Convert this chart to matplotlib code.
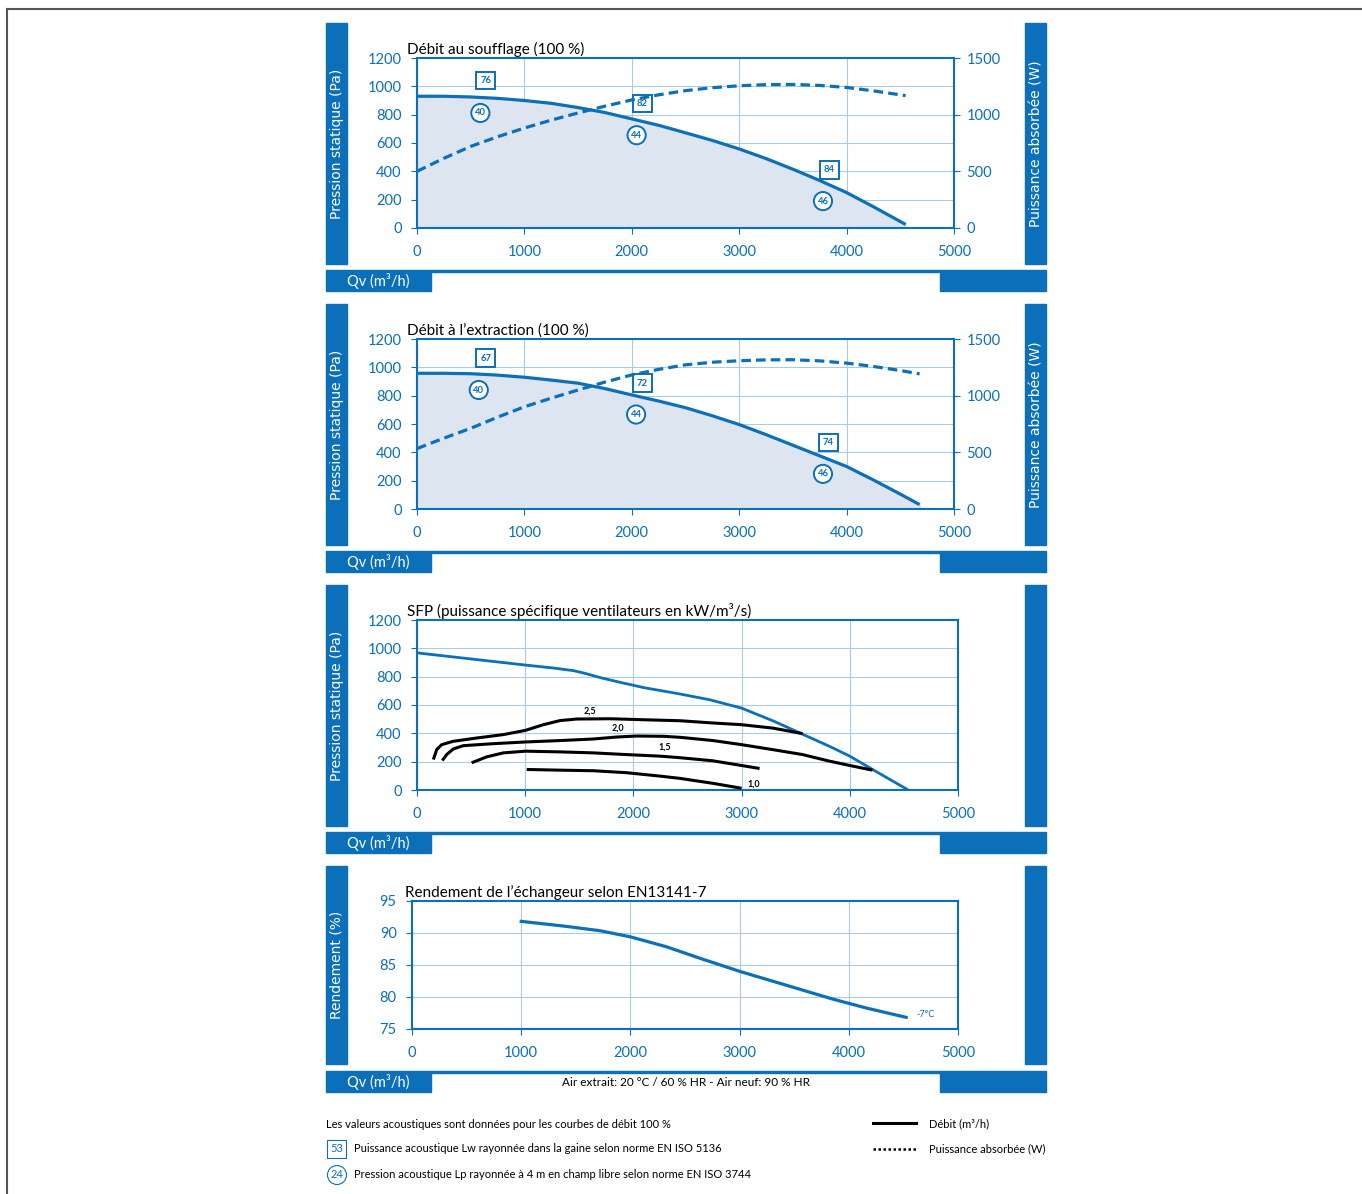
import numpy as np
import matplotlib
matplotlib.use("Agg")
import matplotlib.pyplot as plt
from matplotlib.patches import Rectangle, Circle
from matplotlib.lines import Line2D

plt.rcParams['font.family'] = ['Lato', 'DejaVu Sans']

BLUE = '#0b6fba'
GRID = '#a9cbe8'
FILL = '#dde5f0'

# ---- data ----
# soufflage
q1 = [0, 250, 500, 750, 1000, 1250, 1500, 1750, 2000, 2250, 2500, 2750, 3000, 3250, 3500, 3750, 4000, 4250, 4550]
p1 = [930, 930, 925, 915, 900, 880, 850, 815, 770, 725, 672, 618, 558, 490, 415, 335, 250, 150, 25]
w1 = [500, 615, 720, 805, 882, 952, 1015, 1075, 1130, 1175, 1212, 1238, 1255, 1265, 1267, 1258, 1240, 1210, 1168]
sq1 = [(640, 1040, '76'), (2100, 880, '82'), (3840, 410, '84')]
ci1 = [(590, 812, '40'), (2045, 655, '44'), (3780, 190, '46')]

# extraction
q2 = [0, 250, 500, 750, 1000, 1250, 1500, 1750, 2000, 2250, 2500, 2750, 3000, 3250, 3500, 3750, 4000, 4250, 4500, 4680]
p2 = [958, 958, 955, 945, 930, 910, 888, 850, 805, 762, 715, 658, 596, 525, 450, 375, 300, 205, 105, 31]
w2 = [533, 625, 712, 810, 902, 978, 1050, 1120, 1183, 1232, 1272, 1295, 1308, 1316, 1317, 1307, 1287, 1258, 1222, 1192]
sq2 = [(640, 1065, '67'), (2100, 888, '72'), (3830, 470, '74')]
ci2 = [(575, 840, '40'), (2040, 667, '44'), (3780, 248, '46')]

# SFP
q3 = [0, 500, 1000, 1250, 1450, 1550, 1700, 1900, 2100, 2400, 2700, 3000, 3300, 3560, 3810, 4000, 4210, 4540]
p3 = [968, 925, 882, 862, 842, 824, 792, 756, 722, 682, 638, 578, 485, 395, 309, 239, 145, 0]
sfp_q = {
    '2,5': [151, 182, 228, 336, 552, 798, 1002, 1168, 1322, 1476, 1784, 2092, 2430, 2736, 3000, 3288, 3564],
    '2,0': [234, 274, 336, 428, 706, 1002, 1322, 1630, 1846, 2031, 2277, 2430, 2736, 3000, 3288, 3564, 3810, 4000, 4209],
    '1,5': [505, 644, 798, 1002, 1322, 1630, 1938, 2247, 2430, 2736, 3166],
    '1,0': [1014, 1322, 1630, 1938, 2247, 2430, 2736, 3000],
}
sfp_p = {
    '2,5': [215, 285, 320, 344, 367, 391, 421, 461, 490, 501, 503, 496, 489, 473, 461, 437, 398],
    '2,0': [208, 250, 290, 313, 327, 339, 349, 360, 374, 381, 379, 372, 349, 320, 285, 250, 204, 173, 140],
    '1,5': [192, 234, 262, 274, 269, 262, 250, 239, 228, 206, 152],
    '1,0': [145, 140, 136, 122, 98, 82, 47, 12],
}
sfp_lbl = {'2,5': (1600, 560), '2,0': (1860, 435), '1,5': (2290, 300), '1,0': (3110, 43)}

# rendement
q4 = [1000, 1410, 1720, 2000, 2330, 2630, 3000, 3400, 3850, 4160, 4525]
r4 = [91.82, 91.04, 90.36, 89.4, 87.85, 86.09, 84.01, 81.98, 79.69, 78.28, 76.82]

W, H = 1362, 1194
fig = plt.figure(figsize=(W / 100, H / 100), dpi=100)

bg = fig.add_axes([0, 0, 1, 1])
bg.set_xlim(0, W)
bg.set_ylim(H, 0)
bg.axis('off')

# outer frame (only top and left visible)
bg.plot([7, W], [9, 9], color='#555555', lw=1.5)
bg.plot([7, 7], [9, H], color='#555555', lw=1.5)


def rect(x0, y0, x1, y1):
    return [x0 / W, 1 - y1 / H, (x1 - x0) / W, (y1 - y0) / H]


def frame(top, bottom, bar_y, left_label, right_label=None):
    bg.add_patch(Rectangle((326, top), 21, bottom - top, color=BLUE))
    bg.add_patch(Rectangle((1025, top), 21, bottom - top, color=BLUE))
    bg.text(337, (top + bottom) / 2, left_label, rotation=90, color='white',
            ha='center', va='center', fontsize=10, family='DejaVu Sans')
    if right_label:
        bg.text(1036, (top + bottom) / 2, right_label, rotation=90, color='white',
                ha='center', va='center', fontsize=10, family='DejaVu Sans')
    bg.add_patch(Rectangle((326, bar_y), 105, 21, color=BLUE))
    bg.add_patch(Rectangle((940, bar_y), 106, 21, color=BLUE))
    bg.add_patch(Rectangle((431, bar_y), 509, 2, color=BLUE))
    bg.text(378, bar_y + 11, 'Qv (m³/h)', color='white', ha='center', va='center', fontsize=10.5)


def style(ax):
    ax.set_facecolor('none')
    ax.set_xlim(0, 5000)
    ax.set_xticks(np.arange(0, 5001, 1000))
    ax.grid(True, color=GRID, lw=0.8)
    ax.set_axisbelow(True)
    for s in ax.spines.values():
        s.set_color(BLUE)
        s.set_linewidth(1.5)
    ax.tick_params(colors=BLUE, labelcolor=BLUE, labelsize=10.5, length=4, width=0.8)
    ax.tick_params(axis='x', pad=8)
    ax.tick_params(axis='y', pad=7)


def marks(ax, squares, circles):
    for x, y, t in squares:
        ax.text(x, y, t, ha='center', va='center', fontsize=6.8, fontweight='bold', color=BLUE,
                bbox=dict(boxstyle='square,pad=0.45', fc='white', ec=BLUE, lw=1.4), zorder=6)
    for x, y, t in circles:
        ax.text(x, y, t, ha='center', va='center', fontsize=6.8, fontweight='bold', color=BLUE,
                bbox=dict(boxstyle='circle,pad=0.38', fc='white', ec=BLUE, lw=1.4), zorder=6)


def fan_panel(top_px, q, p, w, sq, ci, title):
    ax = fig.add_axes(rect(417, top_px, 954, top_px + 170))
    style(ax)
    ax.set_ylim(0, 1200)
    ax.set_yticks(np.arange(0, 1201, 200))
    ax.fill_between(q, p, 0, color=FILL, zorder=1)
    ax.plot(q, p, color=BLUE, lw=2.3, zorder=3, solid_capstyle='butt')
    ax2 = ax.twinx()
    ax2.set_ylim(0, 1500)
    ax2.set_yticks([0, 500, 1000, 1500])
    ax2.tick_params(colors=BLUE, labelcolor=BLUE, labelsize=10.5, length=4, width=0.8, pad=5)
    for s in ax2.spines.values():
        s.set_visible(False)
    ax2.plot(q, w, color=BLUE, lw=2.3, ls=(0, (3, 1.6)), zorder=3)
    marks(ax, sq, ci)
    ax.set_title(title, loc='left', fontsize=11, pad=3, x=-0.018)
    return ax


frame(23, 264, 270, 'Pression statique (Pa)', 'Puissance absorbée (W)')
fan_panel(58, q1, p1, w1, sq1, ci1, 'Débit au soufflage (100 %)')

frame(304, 545, 551, 'Pression statique (Pa)', 'Puissance absorbée (W)')
fan_panel(339, q2, p2, w2, sq2, ci2, 'Débit à l’extraction (100 %)')

# SFP panel
frame(585, 826, 832, 'Pression statique (Pa)')
ax3 = fig.add_axes(rect(417, 620, 958, 790))
style(ax3)
ax3.set_ylim(0, 1200)
ax3.set_yticks(np.arange(0, 1201, 200))
ax3.plot(q3, p3, color=BLUE, lw=2.0, zorder=3)
for k in sfp_q:
    ax3.plot(sfp_q[k], sfp_p[k], color='black', lw=2.2, zorder=4, solid_capstyle='butt')
    lx, ly = sfp_lbl[k]
    ax3.text(lx, ly, k, fontsize=6.5, fontweight='bold', ha='center', va='center')
ax3.set_title('SFP (puissance spécifique ventilateurs en kW/m³/s)', loc='left', fontsize=11, pad=3, x=-0.018)

# rendement panel
frame(866, 1064, 1071, 'Rendement (%)')
ax4 = fig.add_axes(rect(412, 901, 958, 1029))
style(ax4)
ax4.set_ylim(75, 95)
ax4.set_yticks(np.arange(75, 96, 5))
ax4.plot(q4, r4, color=BLUE, lw=2.3, zorder=3)
ax4.text(4700, 77.2, '-7°C', color=BLUE, fontsize=6.5, ha='center', va='center')
ax4.set_title('Rendement de l’échangeur selon EN13141-7', loc='left', fontsize=11, pad=3, x=-0.013)
bg.text(686, 1082, 'Air extrait: 20 °C / 60 % HR - Air neuf: 90 % HR', ha='center', va='center', fontsize=8.5)

# notes
bg.text(326, 1124, 'Les valeurs acoustiques sont données pour les courbes de débit 100 %',
        ha='left', va='center', fontsize=8)
bg.add_patch(Rectangle((327, 1140), 19, 18, fc='white', ec=BLUE, lw=0.8))
bg.text(336.5, 1149, '53', color=BLUE, ha='center', va='center', fontsize=8)
bg.text(354, 1149, 'Puissance acoustique Lw rayonnée dans la gaine selon norme EN ISO 5136',
        ha='left', va='center', fontsize=8)
bg.add_patch(Circle((337, 1175), 9.5, fc='white', ec=BLUE, lw=0.8))
bg.text(337, 1175, '24', color=BLUE, ha='center', va='center', fontsize=8)
bg.text(354, 1175, 'Pression acoustique Lp rayonnée à 4 m en champ libre selon norme EN ISO 3744',
        ha='left', va='center', fontsize=8)

bg.add_line(Line2D([873, 916], [1123, 1123], color='black', lw=2.2))
bg.text(929, 1124, 'Débit (m³/h)', ha='left', va='center', fontsize=8)
bg.add_line(Line2D([873, 916], [1149, 1149], color='black', lw=1.8, ls=(0, (1, 1))))
bg.text(929, 1149, 'Puissance absorbée (W)', ha='left', va='center', fontsize=8)

fig.savefig('out.png', dpi=100)
